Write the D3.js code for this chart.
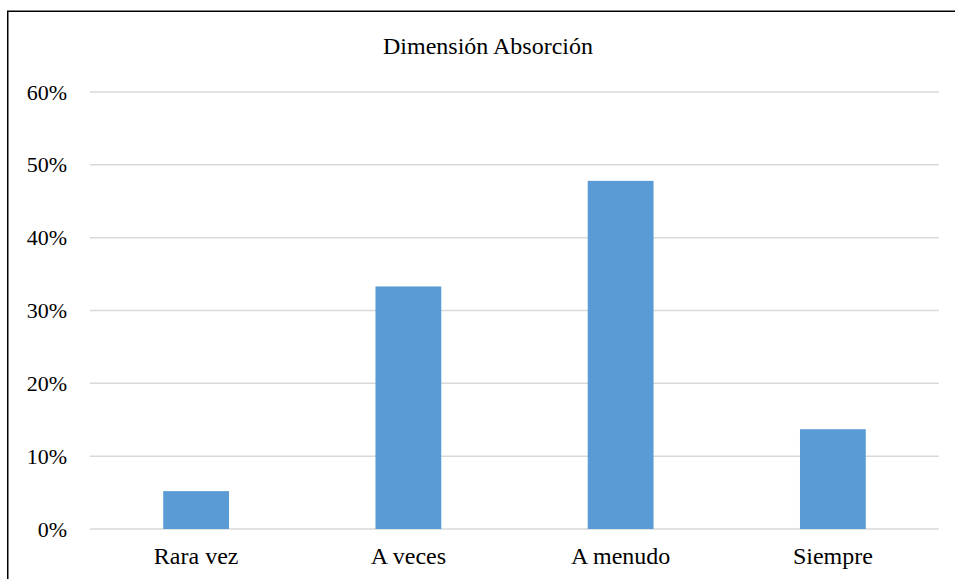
<!DOCTYPE html>
<html>
<head>
<meta charset="utf-8">
<script src="https://cdn.jsdelivr.net/npm/d3@7/dist/d3.min.js"></script>
<style>
  html, body { margin: 0; padding: 0; background: #fff; }
  svg { display: block; }
  text { font-family: "Liberation Serif", "Times New Roman", serif; fill: #000; }
</style>
</head>
<body>
<svg id="chart" width="955" height="579"></svg>
<script>
// Chart data
const categories = ["Rara vez", "A veces", "A menudo", "Siempre"];
const values = [0.052, 0.333, 0.478, 0.137];
const tickValues = [0, 0.1, 0.2, 0.3, 0.4, 0.5, 0.6];
const title = "Dimensión Absorción";

const serif = "'Liberation Serif', 'Times New Roman', serif";
const svg = d3.select("#chart");
const W = 955, H = 579;
const margin = { left: 90, right: 16, top: 92, bottom: 50 };
const plotRight = W - margin.right;   // 939
const plotBottom = H - margin.bottom; // 529

// Outer frame
svg.append("rect")
  .attr("x", 7.75).attr("y", 11.25)
  .attr("width", 990).attr("height", 600)
  .attr("fill", "none").attr("stroke", "#000").attr("stroke-width", 1.5);

const x = d3.scaleBand()
  .domain(categories)
  .range([margin.left, plotRight])
  .paddingInner(0.69).paddingOuter(0.345);

const y = d3.scaleLinear()
  .domain([0, 0.6])
  .range([plotBottom, margin.top]);

// Horizontal gridlines
svg.append("g")
  .selectAll("line")
  .data(tickValues)
  .join("line")
  .attr("x1", margin.left).attr("x2", plotRight)
  .attr("y1", d => y(d)).attr("y2", d => y(d))
  .attr("stroke", "#d9d9d9").attr("stroke-width", 1.5);

// Y axis labels
const yAxis = d3.axisLeft(y)
  .tickValues(tickValues)
  .tickFormat(d3.format(".0%"))
  .tickSize(0).tickPadding(0);
const gy = svg.append("g")
  .attr("transform", `translate(${67},0)`)
  .call(yAxis);
gy.attr("font-family", null);
gy.select(".domain").remove();
gy.selectAll("text")
  .style("font-family", serif)
  .style("font-size", "22px")
  .attr("fill", "#000")
  .attr("dy", "0.32em");

// Bars
svg.append("g")
  .selectAll("rect")
  .data(values)
  .join("rect")
  .attr("x", (d, i) => x(categories[i]))
  .attr("width", x.bandwidth())
  .attr("y", d => y(d))
  .attr("height", d => y(0) - y(d))
  .attr("fill", "#5b9bd5");

// X axis labels
const xAxis = d3.axisBottom(x).tickSize(0).tickPadding(0);
const gx = svg.append("g")
  .attr("transform", `translate(0,${plotBottom})`)
  .call(xAxis);
gx.attr("font-family", null);
gx.select(".domain").remove();
gx.selectAll("text")
  .style("font-family", serif)
  .style("font-size", "24px")
  .attr("fill", "#000")
  .attr("y", 35).attr("dy", 0);

// Title
svg.append("text")
  .attr("x", 488).attr("y", 54)
  .attr("text-anchor", "middle")
  .style("font-family", serif)
  .style("font-size", "24px")
  .text(title);
</script>
</body>
</html>
